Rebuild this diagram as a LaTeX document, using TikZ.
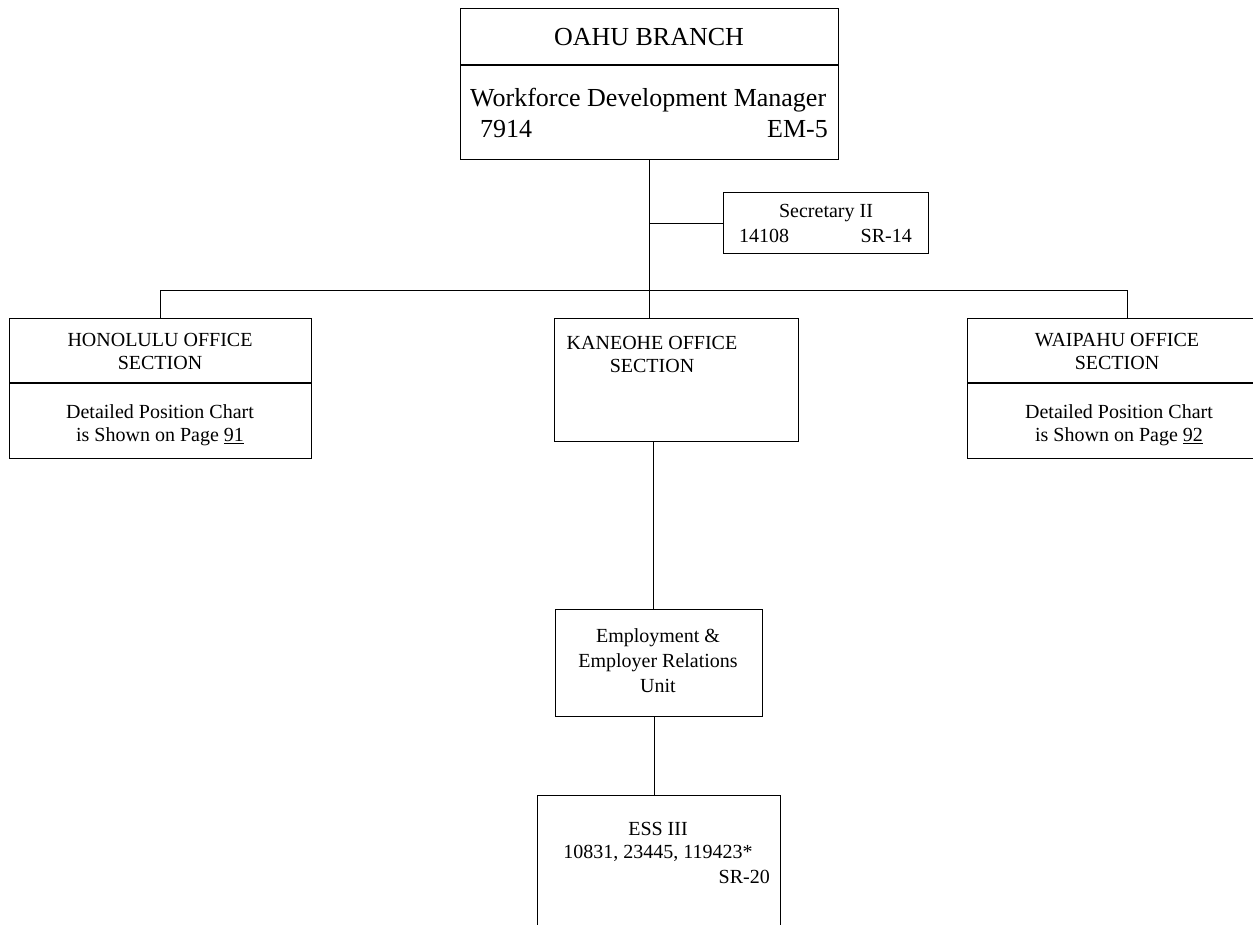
\documentclass[tikz,border=0pt]{standalone}
\usepackage{fontspec}
\setmainfont{Liberation Serif}
\begin{document}
\begin{tikzpicture}[x=1pt,y=-1pt,
  box/.style={draw, line width=1.1pt, rectangle, anchor=north west, inner sep=0pt},
  conn/.style={line width=0.8pt},
  txt/.style={font=\fontsize{20}{23}\selectfont, inner sep=0pt, align=center},
  big/.style={font=\fontsize{26}{30}\selectfont, inner sep=0pt}]
\useasboundingbox (0,0) rectangle (1253,925);
\clip (0,0) rectangle (1253,925);
% OAHU branch
\node[box, minimum width=378pt, minimum height=151pt] (oahu) at (460,8) {};
\draw[line width=1.1pt] ([yshift=-57pt]oahu.north west) -- ([yshift=-57pt]oahu.north east);
\node[big] (oahut) at (649,37) {OAHU BRANCH};
\node[big, anchor=base west] (wdm) at (470,107) {Workforce Development Manager};
\node[big, anchor=base west] (num) at (480,138) {7914};
\node[big, anchor=base east] (em) at (828,138) {EM-5};
% Secretary
\node[box, minimum width=205pt, minimum height=61pt] (sec) at (723,192) {};
\node[txt, anchor=base] (sect) at (826,218) {Secretary II};
\node[txt, anchor=base west] (secn) at (739,243) {14108};
\node[txt, anchor=base east] (secg) at (912,243) {SR-14};
% Sections
\node[box, minimum width=302pt, minimum height=140pt] (hon) at (9,318) {};
\draw[line width=1.1pt] ([yshift=-65pt]hon.north west) -- ([yshift=-65pt]hon.north east);
\node[txt] (hont) at (160,351) {HONOLULU OFFICE\\SECTION};
\node[txt] (honb) at (160,425) {Detailed Position Chart\\is Shown on Page \underline{91}};
\node[box, minimum width=244pt, minimum height=123pt] (kan) at (554,318) {};
\node[txt] (kant) at (652,354) {KANEOHE OFFICE\\SECTION};
\node[box, minimum width=320pt, minimum height=140pt] (wai) at (967,318) {};
\draw[line width=1.1pt] ([yshift=-65pt]wai.north west) -- ([yshift=-65pt]wai.north east);
\node[txt] (wait) at (1117,351) {WAIPAHU OFFICE\\SECTION};
\node[txt] (waib) at (1119,425) {Detailed Position Chart\\is Shown on Page \underline{92}};
% Unit
\node[box, minimum width=207pt, minimum height=107pt] (emp) at (555,609) {};
\node[txt, font=\fontsize{20}{25}\selectfont] (empt) at (658,661) {Employment \&\\Employer Relations\\Unit};
% ESS
\node[box, minimum width=243pt, minimum height=200pt] (ess) at (537,795) {};
\node[txt] (esst) at (658,842) {ESS III\\10831, 23445, 119423*};
\node[txt, anchor=east] (essg) at (770,877) {SR-20};
% connectors
\coordinate (bus) at (649,290);
\draw[conn] (oahu.south) -- (oahu.south |- kan.north);
\draw[conn] (oahu.south |- sec.west) -- (sec.west);
\draw[conn] (hon.north) -- (hon.north |- bus) -| (wai.north);
\draw[conn] ([xshift=-6pt]emp.north) -- ([xshift=-6pt]emp.north |- kan.south);
\draw[conn] ([xshift=-5pt]ess.north) -- ([xshift=-5pt]ess.north |- emp.south);
\end{tikzpicture}
\end{document}
